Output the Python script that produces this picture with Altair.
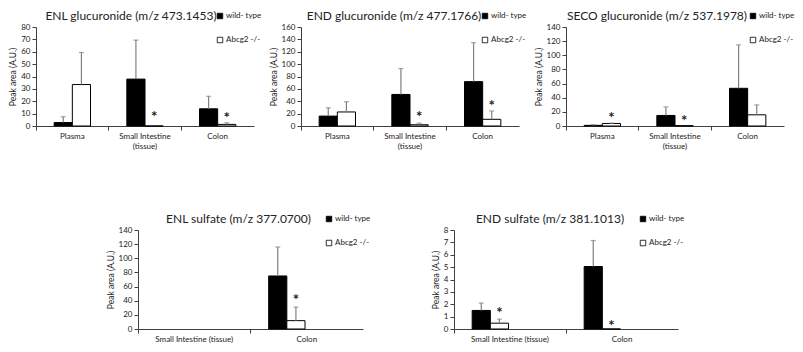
import altair as alt
import pandas as pd

FONT = "Lato"
GROUPS = ["wild- type", "Abcg2 -/-"]
COLORS = ["black", "white"]
ERR_COLOR = "#808080"
AXIS_COLOR = "#404040"
TEXT_COLOR = "#222222"

CATS3 = ["Plasma", "Small Intestine (tissue)", "Colon"]
CATS2 = ["Small Intestine (tissue)", "Colon"]

# ENL glucuronide
enl_g_wt = [2.8, 37.9, 13.9]
enl_g_wt_top = [7.5, 69.4, 24.0]
enl_g_ko = [33.5, 0.0, 1.3]
enl_g_ko_top = [59.4, None, 2.6]
enl_g_star = [None, 10.1, 8.7]

# END glucuronide
end_g_wt = [16.0, 51.0, 71.7]
end_g_wt_top = [29.4, 92.9, 134.7]
end_g_ko = [22.7, 2.0, 10.8]
end_g_ko_top = [39.2, 4.6, 24.3]
end_g_star = [None, 19.0, 37.0]

# SECO glucuronide
seco_g_wt = [0.9, 14.9, 53.3]
seco_g_wt_top = [1.8, 27.0, 114.7]
seco_g_ko = [3.6, 0.5, 15.8]
seco_g_ko_top = [4.0, None, 29.8]
seco_g_star = [15.8, 11.7, None]

# ENL sulfate
enl_s_wt = [None, 75.0]
enl_s_wt_top = [None, 116.0]
enl_s_ko = [None, 11.8]
enl_s_ko_top = [None, 31.0]
enl_s_star = [None, 45.0]

# END sulfate
end_s_wt = [1.5, 5.05]
end_s_wt_top = [2.1, 7.15]
end_s_ko = [0.47, 0.0]
end_s_ko_top = [0.8, None]
end_s_star = [1.5, 0.5]

TWO_LINE = ("datum.label == 'Small Intestine (tissue)' ? "
            "['Small Intestine', '(tissue)'] : datum.label")


def panel(title, cats, wt, wt_top, ko, ko_top, stars, ymax, ystep,
          width, height, two_line, title_dx, legend_right):
    rows = []
    for i, c in enumerate(cats):
        for g, v, t in ((GROUPS[0], wt[i], wt_top[i]), (GROUPS[1], ko[i], ko_top[i])):
            if v is None:
                continue
            rows.append({"cat": c, "grp": g, "val": v, "top": t})
    df = pd.DataFrame(rows)
    err_df = df[df["top"].notna()].copy()
    star_df = pd.DataFrame([{"cat": c, "grp": GROUPS[1], "star": s}
                            for c, s in zip(cats, stars) if s is not None])

    axis_kw = dict(title=None, bandPosition=0, labelAngle=0,
                   tickSize=4, labelPadding=2, labelLineHeight=10)
    if two_line:
        axis_kw["labelExpr"] = TWO_LINE
    x = alt.X("cat:N", sort=cats,
              scale=alt.Scale(domain=cats, paddingInner=0, paddingOuter=0),
              axis=alt.Axis(**axis_kw))
    xo = alt.XOffset("grp:N", sort=GROUPS,
                     scale=alt.Scale(domain=GROUPS, paddingInner=0, paddingOuter=1))
    yscale = alt.Scale(domain=[0, ymax], nice=False)
    yaxis = alt.Axis(title="Peak area (A.U.)",
                     values=list(range(0, ymax + 1, ystep)),
                     labelOverlap=False,
                     tickSize=4, labelPadding=2, titlePadding=3)

    def Y(field):
        return alt.Y(field, scale=yscale, axis=yaxis)

    bars = alt.Chart(df).mark_bar(stroke="black", strokeWidth=1).encode(
        x=x, xOffset=xo, y=Y("val:Q"),
        color=alt.Color("grp:N", sort=GROUPS,
                        scale=alt.Scale(domain=GROUPS, range=COLORS),
                        legend=alt.Legend(title=None, orient="none",
                                          legendX=width - legend_right, legendY=-15,
                                          symbolType="square", symbolSize=30,
                                          symbolStrokeColor="black",
                                          symbolStrokeWidth=0.8,
                                          labelOffset=2, rowPadding=14)),
    )
    rules = alt.Chart(err_df).mark_rule(color=ERR_COLOR, strokeWidth=1.2).encode(
        x=x, xOffset=xo, y=Y("val:Q"), y2="top:Q")
    caps = alt.Chart(err_df).mark_tick(color=ERR_COLOR, orient="horizontal",
                                       size=5, thickness=1.2).encode(
        x=x, xOffset=xo, y=Y("top:Q"))
    layers = [bars, rules, caps]
    if len(star_df):
        st = alt.Chart(star_df).mark_text(text="*", fontSize=15, fontWeight="bold",
                                          baseline="middle", dy=3,
                                          color=TEXT_COLOR, font=FONT).encode(
            x=x, xOffset=xo, y=Y("star:Q"))
        layers.append(st)
    return alt.layer(*layers).properties(
        width=width, height=height,
        title=alt.TitleParams(title, dx=title_dx, offset=-11, anchor="middle",
                              frame="group"))


H = 99
p1 = panel("ENL glucuronide (m/z 473.1453)", CATS3, enl_g_wt, enl_g_wt_top,
           enl_g_ko, enl_g_ko_top, enl_g_star, 80, 10, 218, H, True, -14, 38)
p2 = panel("END glucuronide (m/z 477.1766)", CATS3, end_g_wt, end_g_wt_top,
           end_g_ko, end_g_ko_top, end_g_star, 160, 20, 218, H, True, -16, 38)
p3 = panel("SECO glucuronide (m/z 537.1978)", CATS3, seco_g_wt, seco_g_wt_top,
           seco_g_ko, seco_g_ko_top, seco_g_star, 140, 20, 218, H, True, -18, 35)
p4 = panel("ENL sulfate (m/z 377.0700)", CATS2, enl_s_wt, enl_s_wt_top,
           enl_s_ko, enl_s_ko_top, enl_s_star, 140, 20, 225, H, False, -12, 38)
p5 = panel("END sulfate (m/z 381.1013)", CATS2, end_s_wt, end_s_wt_top,
           end_s_ko, end_s_ko_top, end_s_star, 8, 1, 224, H, False, -16, 39)

spacer = alt.Chart(pd.DataFrame({"a": [0]})).mark_text(text="").encode(
    x=alt.value(0), y=alt.value(0)).properties(width=11, height=H)

top = alt.hconcat(p1, p2, p3, spacing=47, bounds="flush").resolve_scale(
    color="independent").resolve_legend(color="independent")
bottom = alt.hconcat(spacer, p4, p5, spacing=91, bounds="flush").resolve_scale(
    color="independent").resolve_legend(color="independent")

chart = alt.vconcat(top, bottom, spacing=203, bounds="flush").resolve_scale(
    color="independent").resolve_legend(color="independent").properties(
    padding={"top": 2, "left": 0, "right": 0, "bottom": 0}, background="white"
).configure_view(strokeWidth=0).configure_axis(
    labelFont=FONT, titleFont=FONT, labelFontSize=8, titleFontSize=8.5,
    titleFontWeight="normal", labelColor=TEXT_COLOR, titleColor=TEXT_COLOR,
    domainColor=AXIS_COLOR, tickColor=AXIS_COLOR, grid=False
).configure_legend(
    labelFont=FONT, labelFontSize=8, labelColor=TEXT_COLOR
).configure_title(
    font=FONT, fontSize=12, fontWeight="normal", color=TEXT_COLOR
)

chart.save("out.html", embed_options={"renderer": "svg", "actions": False})
